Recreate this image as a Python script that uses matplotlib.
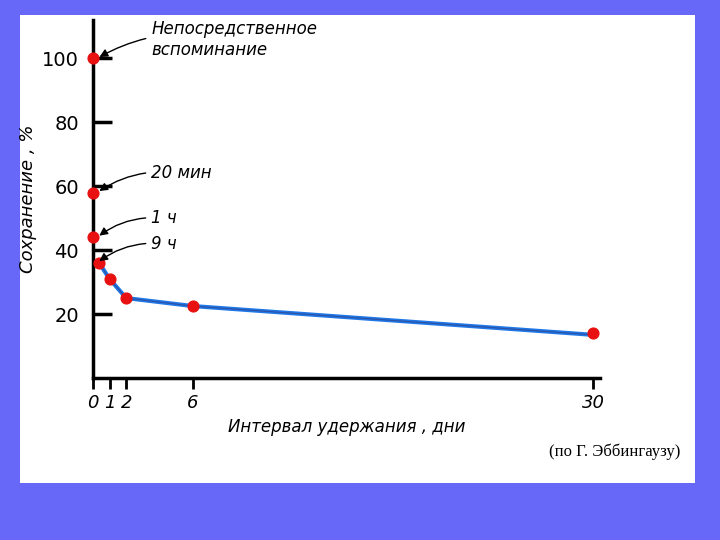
import matplotlib.pyplot as plt
from matplotlib.patches import Rectangle

days = [0, 0, 0, 0.375, 1, 2, 6, 30]
retention = [100, 58, 44, 36, 31, 25, 22.5, 14]
curve_x = [0, 0.375, 1, 2, 6, 30]
curve_y = [36, 36, 31, 25, 22.5, 13.5]
xticks = [0, 1, 2, 6, 30]
yticks = [20, 40, 60, 80, 100]
notes = [("Непосредственное\nвспоминание", 100), ("20 мин", 58), ("1 ч", 44), ("9 ч", 36)]

fig = plt.figure(figsize=(7.2, 5.4), dpi=100)
fig.patch.set_facecolor("#6868f8")
fig.patches.append(Rectangle((0.028, 0.106), 0.937, 0.867, transform=fig.transFigure,
                             facecolor="white", edgecolor="none", zorder=-10))

ax = fig.add_axes([0.129, 0.30, 0.704, 0.663])
ax.set_facecolor("none")
ax.set_xlim(0, 30.4)
ax.set_ylim(0, 112)
for s in ["top", "right"]:
    ax.spines[s].set_visible(False)
ax.spines["left"].set_linewidth(2.5)
ax.spines["bottom"].set_linewidth(2.5)

ax.plot(curve_x, curve_y, color="#1e78e8", lw=3, zorder=2)
ax.plot(curve_x, curve_y, color="#3050a0", lw=0.8, zorder=2)
ax.scatter(days, retention, color="#e81010", s=60, zorder=3, clip_on=False)

ax.set_xticks(xticks)
ax.set_xticklabels([str(v) for v in xticks], fontsize=13, style="italic")
ax.set_yticks(yticks)
ax.set_yticklabels([str(v) for v in yticks], fontsize=14)
ax.tick_params(axis="y", direction="in", length=14, width=2.5, pad=10)
ax.tick_params(axis="x", direction="out", length=8, width=2)

ax.set_xlabel("Интервал удержания , дни", fontsize=12, style="italic")
ax.set_ylabel("Сохранение , %", fontsize=13, style="italic")

for text, y in notes:
    ax.annotate(text, xy=(0.25, y), xytext=(3.5, y + 6), fontsize=12, style="italic",
                va="center", ha="left",
                arrowprops=dict(arrowstyle="-|>", color="black", lw=1,
                                connectionstyle="arc3,rad=0.2"))

fig.text(0.945, 0.155, "(по Г. Эббингаузу)", fontsize=12, family="Liberation Serif",
         ha="right")

fig.savefig("out.png", facecolor=fig.get_facecolor())
